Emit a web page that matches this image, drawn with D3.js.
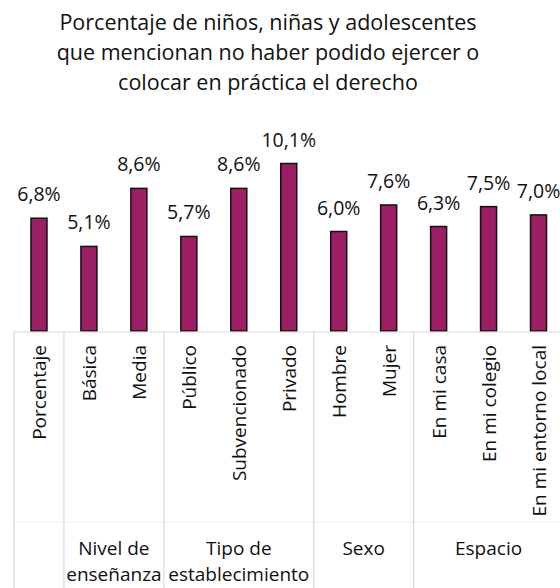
<!DOCTYPE html>
<html>
<head>
<meta charset="utf-8">
<script src="https://cdn.jsdelivr.net/npm/d3@7"></script>
<style>
  body { margin: 0; background: #fff; }
  svg { font-family: "Open Sans", Lato, sans-serif; }
</style>
</head>
<body>
<svg id="chart" width="560" height="588"></svg>
<script>
// --- data ---
const titleLines = [
  "Porcentaje de niños, niñas y adolescentes",
  "que mencionan no haber podido ejercer o",
  "colocar en práctica el derecho"
];
const categories = ["Porcentaje", "Básica", "Media", "Público", "Subvencionado", "Privado",
                    "Hombre", "Mujer", "En mi casa", "En mi colegio", "En mi entorno local"];
const values = [6.8, 5.1, 8.6, 5.7, 8.6, 10.1, 6.0, 7.6, 6.3, 7.5, 7.0];
const groupLabels = [[], ["Nivel de", "enseñanza"], ["Tipo de", "establecimiento"], ["Sexo"], ["Espacio"]];
const groupSizes = [1, 2, 3, 2, 3];

// --- layout ---
const svg = d3.select("#chart");
const baseY = 331;
const plotLeft = 14, plotRight = 563.5;
const barColor = "#9b1f62";
const gridColor = "#d9d9d9";
const textColor = "#111";

const x = d3.scaleBand().domain(categories).range([plotLeft, plotRight]).padding(0);
const y = d3.scaleLinear().domain([0, 12]).range([baseY, 132]);
const fmt = v => d3.format(".1f")(v).replace(".", ",") + "%";

// title
svg.append("text")
    .attr("text-anchor", "middle")
    .attr("font-size", 21.5)
    .attr("fill", textColor)
    .selectAll("tspan")
    .data(titleLines)
    .join("tspan")
    .attr("x", 268)
    .attr("y", (d, i) => 30 + i * 30)
    .text(d => d);

// bars
const barW = 16;
svg.append("g")
    .selectAll("rect")
    .data(values)
    .join("rect")
    .attr("x", (d, i) => x(categories[i]) + x.bandwidth() / 2 - barW / 2)
    .attr("y", d => y(d))
    .attr("width", barW)
    .attr("height", d => baseY - y(d))
    .attr("fill", barColor)
    .attr("stroke", "#111")
    .attr("stroke-width", 1.5);

// value labels
svg.append("g")
    .selectAll("text")
    .data(values)
    .join("text")
    .attr("x", (d, i) => x(categories[i]) + x.bandwidth() / 2)
    .attr("y", d => y(d) - 17)
    .attr("text-anchor", "middle")
    .attr("font-size", 19.5)
    .attr("fill", textColor)
    .text(d => fmt(d));

// category axis: horizontal lines
svg.append("line")
    .attr("x1", plotLeft).attr("x2", plotRight)
    .attr("y1", baseY + 1).attr("y2", baseY + 1)
    .attr("stroke", gridColor).attr("stroke-width", 1.2);
svg.append("line")
    .attr("x1", plotLeft).attr("x2", plotRight)
    .attr("y1", 522).attr("y2", 522)
    .attr("stroke", "#f0f0f0").attr("stroke-width", 1);

// group separators
let idx = 0;
const bounds = [plotLeft];
groupSizes.forEach(n => {
  idx += n;
  bounds.push(idx < categories.length ? x(categories[idx]) : plotRight);
});
svg.append("g")
    .selectAll("line")
    .data(bounds)
    .join("line")
    .attr("x1", d => d).attr("x2", d => d)
    .attr("y1", baseY + 1).attr("y2", 588)
    .attr("stroke", gridColor).attr("stroke-width", 1.2);

// rotated category labels
svg.append("g")
    .selectAll("text")
    .data(categories)
    .join("text")
    .attr("transform", d => `translate(${x(d) + x.bandwidth() / 2 + 7},345) rotate(-90)`)
    .attr("text-anchor", "end")
    .attr("font-size", 19)
    .attr("fill", textColor)
    .text(d => d);

// group labels, one text per line
const groupText = svg.append("g")
    .attr("text-anchor", "middle")
    .attr("font-size", 19)
    .attr("fill", textColor);
groupLabels.forEach((lines, g) => {
  const cx = (bounds[g] + bounds[g + 1]) / 2;
  lines.forEach((ln, k) => {
    groupText.append("text").attr("x", cx).attr("y", 555 + k * 26).text(ln);
  });
});
</script>
</body>
</html>
